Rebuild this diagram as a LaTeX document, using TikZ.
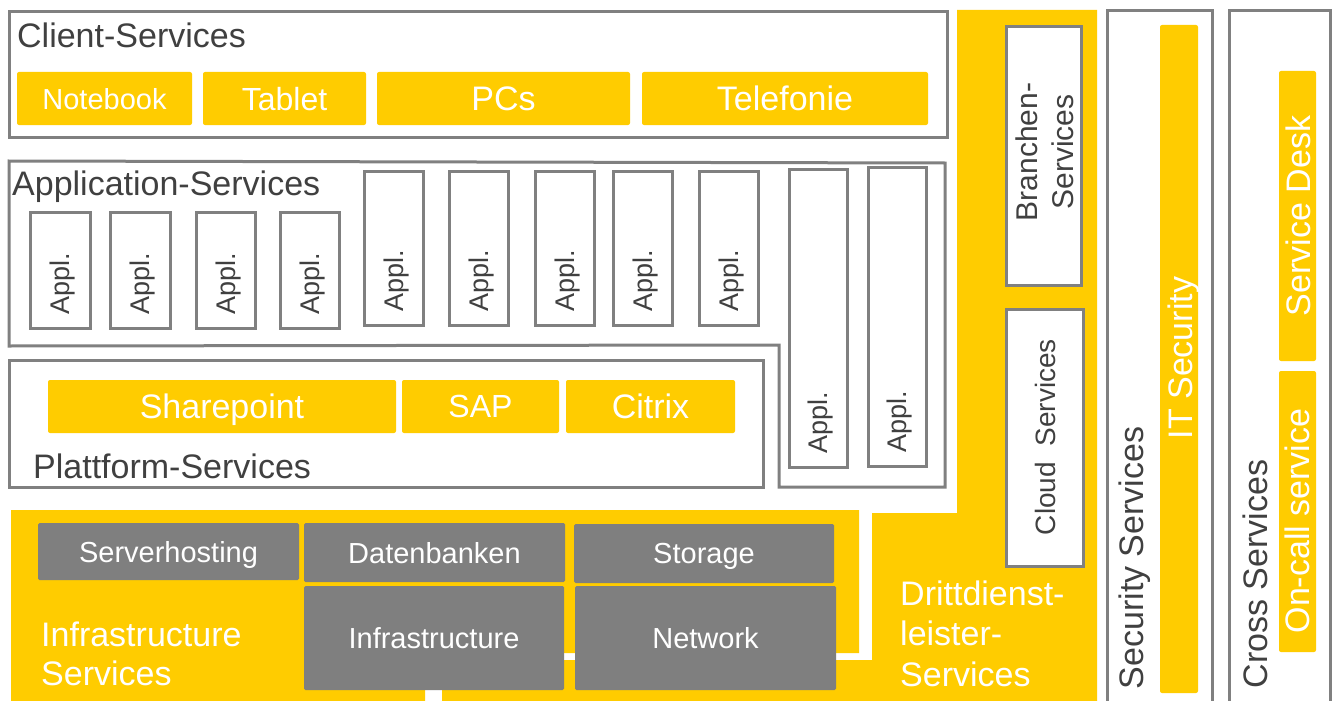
\documentclass[tikz,border=0pt]{standalone}
\usepackage{fontspec}
\setmainfont{Liberation Sans}
\usetikzlibrary{fit}
\definecolor{ylw}{HTML}{FFCC00}
\definecolor{brd}{HTML}{808080}
\definecolor{txt}{HTML}{404040}
\definecolor{gfill}{HTML}{7F7F7F}
\begin{document}
\begin{tikzpicture}[x=1pt,y=-1pt,
  frame/.style={draw=brd, line width=3pt, fill=white, inner sep=0pt},
  ybox/.style={fill=ylw, inner sep=0pt, rounded corners=2pt},
  gbox/.style={fill=gfill, inner sep=0pt, rounded corners=1.5pt},
  lbl/.style={text=txt, inner sep=0pt, font=\fontsize{34}{40}\selectfont},
  wlbl/.style={text=white, inner sep=0pt, font=\fontsize{34}{40}\selectfont},
  ctr/.style={text depth=0pt},
  appl/.style={text=txt, inner sep=0pt, rotate=90, ctr, font=\fontsize{27}{32}\selectfont},
  glbl/.style={text=white, inner sep=0pt, ctr, font=\fontsize{29}{34}\selectfont}]
\useasboundingbox (0,0) rectangle (1336,701);
\fill[white] (0,0) rectangle (1336,701);

% Drittdienstleister region (yellow L-shape)
\fill[ylw] (957,10) -- (1097,10) -- (1097,701) -- (442,701) -- (442,660) -- (872,660) -- (872,513) -- (957,513) -- cycle;
% Infrastructure region
\fill[ylw] (11,510) -- (859,510) -- (859,653) -- (425,653) -- (425,701) -- (11,701) -- cycle;

% Client services
\node[frame, fit={(9,12) (947,137)}] (client) {};
\node[lbl, anchor=base west] (clientT) at (17,48) {Client-Services};
\node[ybox, fit={(17,72) (192,125)}] (nb) {};
\node[wlbl, ctr, font=\fontsize{29}{34}\selectfont] (nbT) at (nb.center) {Notebook};
\node[ybox, fit={(203,72) (366,125)}] (tab) {};
\node[wlbl, ctr, font=\fontsize{32}{38}\selectfont] (tabT) at (tab.center) {Tablet};
\node[ybox, fit={(377,72) (630,125)}] (pc) {};
\node[wlbl, ctr] (pcT) at (pc.center) {PCs};
\node[ybox, fit={(642,72) (928,125)}] (tel) {};
\node[wlbl, ctr] (telT) at (tel.center) {Telefonie};

% Application services
\draw[frame] (9,161) -- (945,163) -- (945,487) -- (779,487) -- (779,345) -- (9,346) -- cycle;
\node[lbl, anchor=base west] (appT) at (12,195) {Application-Services};
\foreach \n/\xa/\ya/\xb/\yb in {1/30/212/90/328, 2/110/212/170/328, 3/196/212/255/328, 4/280/212/339/328,
  5/364/171/423/325, 6/449/171/508/325, 7/535/171/594/325, 8/613/171/672/325, 9/699/171/758/325,
  10/789/169/847/467, 11/868/167/926/466}{
  \node[frame, fit={(\xa,\ya) (\xb,\yb)}] (a\n) {};
  \node[appl] (a\n T) at ({(\xa+\xb)/2}, {\yb-44}) {Appl.};
}

% Plattform services
\node[frame, fit={(9,360) (763,487)}] (plat) {};
\node[ybox, fit={(48,380) (396,433)}] (sp) {};
\node[wlbl, ctr] (spT) at (sp.center) {Sharepoint};
\node[ybox, fit={(402,380) (559,433)}] (sap) {};
\node[wlbl, ctr, font=\fontsize{32}{38}\selectfont] (sapT) at (sap.center) {SAP};
\node[ybox, fit={(566,380) (735,433)}] (ctx) {};
\node[wlbl, ctr] (ctxT) at (ctx.center) {Citrix};
\node[lbl, anchor=base west] (platT) at (33,478) {Plattform-Services};

% Infrastructure services
\node[gbox, fit={(38,523) (299,580)}] (srv) {};
\node[glbl] (srvT) at (srv.center) {Serverhosting};
\node[gbox, fit={(304,523) (565,582)}] (db) {};
\node[glbl] (dbT) at (db.center) {Datenbanken};
\node[gbox, fit={(574,524) (834,583)}] (sto) {};
\node[glbl] (stoT) at (sto.center) {Storage};
\node[gbox, fit={(304,586) (564,690)}] (inf) {};
\node[glbl] (infT) at (inf.center) {Infrastructure};
\node[gbox, fit={(575,586) (836,690)}] (net) {};
\node[glbl] (netT) at (net.center) {Network};
\node[wlbl, anchor=base west] (is1) at (41,646) {Infrastructure};
\node[wlbl, anchor=base west] (is2) at (41,685) {Services};

% Drittdienstleister
\node[wlbl, anchor=base west] (d1) at (900,605) {Drittdienst-};
\node[wlbl, anchor=base west] (d2) at (900,645) {leister-};
\node[wlbl, anchor=base west] (d3) at (900,686) {Services};
\node[frame, fit={(1006,27) (1081,285)}] (br) {};
\node[lbl, rotate=90, align=center, font=\fontsize{30}{36}\selectfont] (brT) at (1045,152) {Branchen-\\Services};
\node[frame, fit={(1006,309) (1083,566)}] (cl) {};
\node[lbl, rotate=90, ctr, font=\fontsize{28}{34}\selectfont] (clT) at (1045,437) {Cloud\ \ Services};

% Security services
\draw[draw=brd, line width=3pt] (1107,705) -- (1107,11) -- (1212,11) -- (1212,705);
\node[ybox, fit={(1160,25) (1198,693)}] (its) {};
\node[wlbl, rotate=90, ctr] (itsT) at (1180,358) {IT Security};
\node[lbl, rotate=90, ctr] (secT) at (1131,558) {Security Services};

% Cross services
\draw[draw=brd, line width=3pt] (1229,705) -- (1229,11) -- (1330,11) -- (1330,705);
\node[ybox, fit={(1279,71) (1316,361)}] (sd) {};
\node[wlbl, rotate=90, ctr] (sdT) at (1298,216) {Service Desk};
\node[ybox, fit={(1279,371) (1316,652)}] (oc) {};
\node[wlbl, rotate=90, ctr] (ocT) at (1297,521) {On-call service};
\node[lbl, rotate=90, ctr] (crT) at (1255,574) {Cross Services};
\end{tikzpicture}
\end{document}
